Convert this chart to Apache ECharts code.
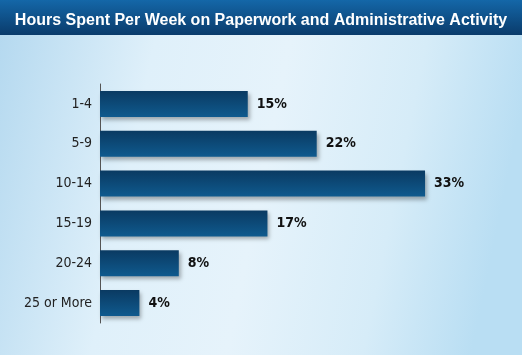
<!DOCTYPE html>
<html>
<head>
<meta charset="utf-8">
<script src="https://cdn.jsdelivr.net/npm/echarts@6/dist/echarts.min.js"></script>
<style>
html,body{margin:0;padding:0;}
#chart{width:522px;height:355px;}
</style>
</head>
<body>
<div id="chart"></div>
<script>
const titleText = "Hours Spent Per Week on Paperwork and Administrative Activity";
const categories = ["1-4", "5-9", "10-14", "15-19", "20-24", "25 or More"];
const values = [15, 22, 33, 17, 8, 4];

const chart = echarts.init(document.getElementById('chart'), null, {renderer: 'canvas'});
const narrow = '"DejaVu Sans Condensed", "Liberation Sans Narrow", sans-serif';

chart.setOption({
  animation: false,
  backgroundColor: new echarts.graphic.LinearGradient(0, 0, 1, 0.3, [
    {offset: 0, color: '#b3d8ef'},
    {offset: 0.3, color: '#dff0fa'},
    {offset: 0.55, color: '#e6f3fb'},
    {offset: 0.8, color: '#d6ecf8'},
    {offset: 1, color: '#b9def3'}
  ]),
  graphic: [{
    type: 'rect',
    z: 0,
    shape: {x: 0, y: 0, width: 522, height: 35},
    style: {
      fill: new echarts.graphic.LinearGradient(0, 0, 0, 1, [
        {offset: 0, color: '#1467a8'},
        {offset: 1, color: '#0a3b6b'}
      ])
    }
  }],
  title: {
    text: titleText,
    left: 'center',
    top: 8,
    textStyle: {
      color: '#ffffff',
      fontFamily: '"Liberation Sans", Arial, sans-serif',
      fontWeight: 'bold',
      fontSize: 16
    }
  },
  grid: {left: 100, right: 28, top: 84, height: 239, containLabel: false},
  xAxis: {
    type: 'value',
    min: 0,
    max: 40,
    show: false
  },
  yAxis: {
    type: 'category',
    data: categories,
    inverse: true,
    axisLine: {show: true, lineStyle: {color: '#555', width: 1}},
    axisTick: {show: false},
    axisLabel: {
      color: '#222',
      fontSize: 14,
      fontFamily: narrow,
      margin: 8
    }
  },
  series: [{
    type: 'bar',
    data: values,
    barWidth: 26,
    itemStyle: {
      color: new echarts.graphic.LinearGradient(0, 0, 0, 1, [
        {offset: 0, color: '#0a3a62'},
        {offset: 1, color: '#0f5a8e'}
      ]),
      shadowColor: 'rgba(0,0,0,0.3)',
      shadowBlur: 4,
      shadowOffsetX: 2,
      shadowOffsetY: 3
    },
    label: {
      show: true,
      position: 'right',
      distance: 9,
      formatter: '{c}%',
      color: '#111',
      fontWeight: 'bold',
      fontSize: 14,
      fontFamily: narrow
    }
  }]
});
</script>
</body>
</html>
